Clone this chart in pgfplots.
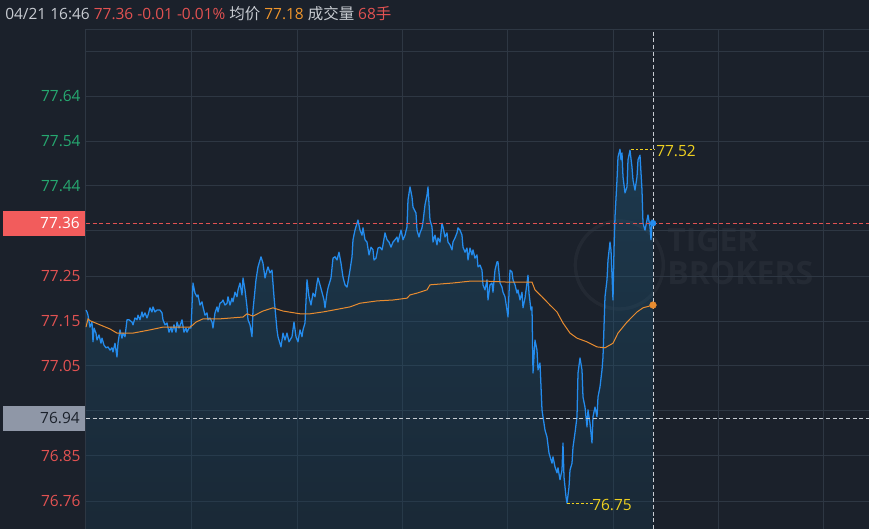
\documentclass[border=0pt]{standalone}
\usepackage{pgfplots}
\pgfplotsset{compat=1.18}
\usepackage{pgfplotstable}
\usepackage{fontspec}
\setmainfont{Open Sans}
\newfontfamily\cjk{Noto Sans CJK SC}
\definecolor{bg}{RGB}{27,33,43}
\definecolor{gridc}{RGB}{46,55,67}
\definecolor{lineblue}{RGB}{36,140,238}
\definecolor{avgorange}{RGB}{232,140,48}
\definecolor{upgreen}{RGB}{38,168,112}
\definecolor{dnred}{RGB}{226,82,82}
\definecolor{boxred}{RGB}{242,92,92}
\definecolor{boxgrey}{RGB}{143,151,167}
\definecolor{hdrgray}{RGB}{200,204,210}
\definecolor{hdrorange}{RGB}{240,150,44}
\definecolor{yel}{RGB}{238,208,32}
\definecolor{vlinec}{RGB}{200,204,210}
\definecolor{fillTop}{RGB}{34,112,158}
\definecolor{fillBot}{RGB}{24,60,82}

\pgfplotstableread{
x p
0 77.170
1 77.166
2 77.159
4 77.133
6 77.144
7 77.101
8 77.131
10 77.120
11 77.105
13 77.116
15 77.098
16 77.109
18 77.094
20 77.088
22 77.090
24 77.083
26 77.088
27 77.079
29 77.098
31 77.068
32 77.098
34 77.127
36 77.109
37 77.120
39 77.112
41 77.149
43 77.149
46 77.144
47 77.138
49 77.153
51 77.149
52 77.159
54 77.149
56 77.166
57 77.155
59 77.164
61 77.153
62 77.159
64 77.175
66 77.166
67 77.177
69 77.166
71 77.170
74 77.170
76 77.164
77 77.149
79 77.138
81 77.142
83 77.122
85 77.133
86 77.122
88 77.138
90 77.122
91 77.144
93 77.131
95 77.142
96 77.149
98 77.122
100 77.131
101 77.122
103 77.131
105 77.131
107 77.229
109 77.207
111 77.199
112 77.203
114 77.181
116 77.188
117 77.177
119 77.159
121 77.164
122 77.149
124 77.153
126 77.144
127 77.131
129 77.164
131 77.177
132 77.166
134 77.185
136 77.188
137 77.192
139 77.181
141 77.185
142 77.199
144 77.181
146 77.196
147 77.188
149 77.209
151 77.199
152 77.214
154 77.229
156 77.203
157 77.240
159 77.214
161 77.177
162 77.149
164 77.138
166 77.112
167 77.170
170 77.236
172 77.264
175 77.286
177 77.272
179 77.240
181 77.257
182 77.264
184 77.251
186 77.257
188 77.199
191 77.127
192 77.112
195 77.090
197 77.120
199 77.105
201 77.120
203 77.101
206 77.112
208 77.144
210 77.112
212 77.101
214 77.127
216 77.112
217 77.127
219 77.142
221 77.236
223 77.199
225 77.181
227 77.207
229 77.199
231 77.229
232 77.240
234 77.225
236 77.209
238 77.192
239 77.175
241 77.207
242 77.218
245 77.240
247 77.283
249 77.286
251 77.279
253 77.296
255 77.272
257 77.242
259 77.225
261 77.220
262 77.231
264 77.257
266 77.286
267 77.323
269 77.344
271 77.359
272 77.366
274 77.344
276 77.333
277 77.349
279 77.323
281 77.318
283 77.290
285 77.307
287 77.301
288 77.279
290 77.283
292 77.305
294 77.307
296 77.301
297 77.312
299 77.338
301 77.323
303 77.318
305 77.307
307 77.318
309 77.323
311 77.329
312 77.318
315 77.344
317 77.323
319 77.333
321 77.351
322 77.410
324 77.438
326 77.416
327 77.394
330 77.381
331 77.344
333 77.329
334 77.338
336 77.349
337 77.362
339 77.399
341 77.420
342 77.438
344 77.366
346 77.351
347 77.318
349 77.333
351 77.312
352 77.327
354 77.318
356 77.359
357 77.351
359 77.329
361 77.338
362 77.318
364 77.312
366 77.301
367 77.318
369 77.327
371 77.338
372 77.349
374 77.344
376 77.333
377 77.307
379 77.296
381 77.305
382 77.279
384 77.305
386 77.290
387 77.301
389 77.283
391 77.290
392 77.264
394 77.268
396 77.257
397 77.225
399 77.214
401 77.236
402 77.192
404 77.225
406 77.229
407 77.209
409 77.257
411 77.275
412 77.275
414 77.229
416 77.220
417 77.209
419 77.199
421 77.170
422 77.155
424 77.257
426 77.253
427 77.236
429 77.225
431 77.207
432 77.214
434 77.192
436 77.209
437 77.175
439 77.196
441 77.229
442 77.246
443 77.207
445 77.170
446 77.177
447 77.033
449 77.105
451 77.083
452 77.040
454 77.055
456 76.953
457 76.938
459 76.909
461 76.894
463 76.859
466 76.837
467 76.851
469 76.829
471 76.816
472 76.827
474 76.801
476 76.822
477 76.881
478 76.807
480 76.764
481 76.750
483 76.785
484 76.822
486 76.837
487 76.872
489 76.903
491 76.938
492 77.033
494 77.066
496 77.040
497 76.981
499 76.959
501 76.916
502 76.953
504 76.924
506 76.881
507 76.938
509 76.959
511 76.938
512 76.981
514 77.003
516 77.040
517 77.068
519 77.199
521 77.236
522 77.279
524 77.318
525 77.301
527 77.192
528 77.301
529 77.373
531 77.453
532 77.503
534 77.520
535 77.497
536 77.512
537 77.460
539 77.425
541 77.438
542 77.497
544 77.518
546 77.481
547 77.453
549 77.431
551 77.460
552 77.497
554 77.507
556 77.431
557 77.359
559 77.344
561 77.366
562 77.377
564 77.351
565 77.323
566 77.366
567 77.359
}\pricedata

\pgfplotstableread{
x p
0 77.133
2 77.151
4 77.147
14 77.138
24 77.129
31 77.120
47 77.120
64 77.127
77 77.133
104 77.133
107 77.138
110 77.144
117 77.151
134 77.151
157 77.155
161 77.162
167 77.157
177 77.168
187 77.175
197 77.168
214 77.162
224 77.162
237 77.166
247 77.170
264 77.177
274 77.185
291 77.190
307 77.192
321 77.196
324 77.203
331 77.207
341 77.214
344 77.225
367 77.229
384 77.233
401 77.233
421 77.231
446 77.231
449 77.214
456 77.199
464 77.181
471 77.166
477 77.142
484 77.120
491 77.109
501 77.101
511 77.090
519 77.088
527 77.098
532 77.120
541 77.144
551 77.166
557 77.175
567 77.181
}\avgdata

\begin{document}
\fontsize{11.6pt}{13.5pt}\selectfont
\begin{tikzpicture}
\fill[bg] (-64.5pt,0) rectangle (587.25pt,396.75pt);
% watermark
\draw[white, opacity=0.04, line width=2.5pt] (400pt,198pt) circle (33pt);
\node[anchor=base west, inner sep=0, text=white, text opacity=0.045, font=\fontsize{24pt}{24pt}\selectfont\bfseries] at (435.75pt,207.75pt) {TIGER};
\node[anchor=base west, inner sep=0, text=white, text opacity=0.045, font=\fontsize{24pt}{24pt}\selectfont\bfseries] at (435.75pt,183pt) {BROKERS};
% header
\node[anchor=base west, inner sep=0] at (-60.75pt,382.3pt) {\color{hdrgray}04/21 16:46 \color{dnred}77.36 -0.01 -0.01\% \color{hdrgray}{\cjk 均价} \color{hdrorange}77.18 \color{hdrgray}{\cjk 成交量} \color{dnred}68{\cjk 手}};
\begin{axis}[
  at={(0,0)}, anchor=south west,
  scale only axis, width=587.25pt, height=374.25pt,
  xmin=0, xmax=783, ymin=76.6939, ymax=77.7793,
  axis line style={draw=none},
  major tick length=0pt,
  xtick={106,211,316,421,527,632,737},
  xticklabels={},
  ytick={76.7548,76.8527,76.9506,77.0485,77.1463,77.2442,77.3421,77.4400,77.5378,77.6357,77.7325},
  yticklabels={\textcolor{dnred}{76.76},\textcolor{dnred}{76.85},{},\textcolor{dnred}{77.05},\textcolor{dnred}{77.15},\textcolor{dnred}{77.25},{},\textcolor{upgreen}{77.44},\textcolor{upgreen}{77.54},\textcolor{upgreen}{77.64},{}},
  yticklabel style={anchor=east},
  grid=major,
  grid style={gridc, line width=0.75pt},
  clip=false,
]
\draw[gridc, line width=0.75pt] (rel axis cs:0,0) -- (rel axis cs:0,1) -- (rel axis cs:1,1);
\addplot[draw=none, top color=fillTop, bottom color=fillBot, fill opacity=0.3] table[x=x,y=p] {\pricedata} -- (axis cs:567,76.6939) -- (axis cs:0,76.6939) -- cycle;
\addplot[lineblue, line width=0.95pt, line join=round] table[x=x,y=p] {\pricedata};
\addplot[avgorange, line width=0.75pt] table[x=x,y=p] {\avgdata};
% guide lines
\draw[dnred, line width=0.75pt, dash pattern=on 3pt off 2pt] (axis cs:0,77.359) -- (axis cs:783,77.359);
\draw[vlinec, line width=0.75pt, dash pattern=on 3pt off 2pt] (axis cs:0,76.935) -- (axis cs:783,76.935);
\draw[vlinec, line width=0.75pt, dash pattern=on 3pt off 2pt] (axis cs:567,76.6939) -- (axis cs:567,77.7793);
% high / low labels
\draw[yel, line width=0.75pt, dash pattern=on 2pt off 1.5pt] (axis cs:545,77.520) -- (axis cs:569,77.520);
\node[anchor=west, inner sep=0pt, text=yel, yshift=-1pt] at (axis cs:570,77.520) {77.52};
\draw[yel, line width=0.75pt, dash pattern=on 2pt off 1.5pt] (axis cs:481,76.750) -- (axis cs:507,76.750);
\node[anchor=west, inner sep=0pt, text=yel, yshift=-1pt] at (axis cs:506,76.750) {76.75};
% end dots
\addplot[only marks, mark=*, mark size=2.5pt, color=avgorange] coordinates {(567,77.181)};
\addplot[only marks, mark=*, mark size=2.2pt, color=lineblue] coordinates {(567,77.359)};
\coordinate (lastp) at (axis cs:0,77.359);
\coordinate (refp) at (axis cs:0,76.935);
\end{axis}
% price boxes
\fill[boxred] ([xshift=-62.25pt,yshift=-9.4pt]lastp) rectangle ([xshift=-0.75pt,yshift=9.4pt]lastp);
\node[anchor=east, inner sep=0pt, text=white] at ([xshift=-4.5pt]lastp) {77.36};
\fill[boxgrey] ([xshift=-62.25pt,yshift=-9.4pt]refp) rectangle ([xshift=-0.75pt,yshift=9.4pt]refp);
\node[anchor=east, inner sep=0pt, text=bg] at ([xshift=-4.5pt]refp) {76.94};
\pgfresetboundingbox
\path[use as bounding box] (-64.5pt,0) rectangle (587.25pt,396.75pt);
\end{tikzpicture}
\end{document}
